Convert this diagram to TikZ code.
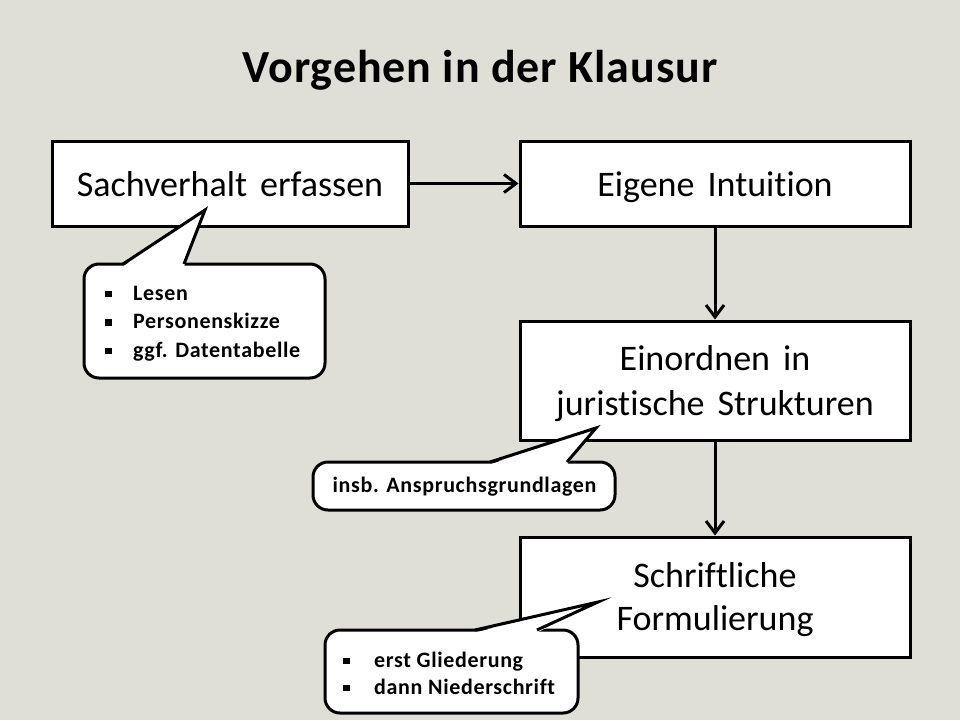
\documentclass[tikz,border=0pt]{standalone}
\usepackage{fontspec}
\setmainfont{Carlito}
\newfontfamily\boxfont[Ligatures=NoCommon,WordSpace=1.6]{Carlito}
\newfontfamily\callfont[Ligatures=NoCommon,LetterSpace=3]{Carlito}
\newfontfamily\titlefont[LetterSpace=2]{Carlito}
\usetikzlibrary{arrows.meta}
\definecolor{bg}{HTML}{DFDFD7}
\newcommand\mybulA{\makebox[28pt][l]{\rule[3pt]{6.5pt}{6.5pt}}}
\newcommand\mybulB{\makebox[31pt][l]{\rule[3pt]{6.5pt}{6.5pt}}}
\begin{document}
\begin{tikzpicture}[x=1pt,y=-1pt,
  mainbox/.style={draw=black, line width=3pt, fill=white, inner sep=0pt},
  boxtxt/.style={anchor=base, inner sep=0pt, font=\boxfont\fontsize{36}{44}\selectfont},
  callout/.style={draw=black, line width=3pt, fill=white, rounded corners=15pt, inner sep=0pt},
  calltxt/.style={anchor=base west, inner sep=0pt, font=\callfont\bfseries\fontsize{22}{28}\selectfont},
  flow/.style={line width=3pt, -{Straight Barb[length=12pt,width=18pt]}},
  tail/.style={draw=black, line width=3pt, line join=miter}
]
\useasboundingbox[fill=bg] (0,0) rectangle (960,720);
\node[anchor=base, inner sep=0pt, font=\titlefont\bfseries\fontsize{46}{50}\selectfont] (title) at (480,82) {Vorgehen in der Klausur};

\node[mainbox, minimum width=356pt, minimum height=85pt] (s) at (230,183.5) {};
\node[mainbox, minimum width=390pt, minimum height=85pt] (e) at (715,183.5) {};
\node[mainbox, minimum width=390pt, minimum height=119pt] (j) at (715,380.5) {};
\node[mainbox, minimum width=390pt, minimum height=120pt] (f) at (715,597) {};
\node[boxtxt] (st) at (230,196) {Sachverhalt erfassen};
\node[boxtxt] (et) at (715,196) {Eigene Intuition};
\node[boxtxt] (jt1) at (715,370) {Einordnen in};
\node[boxtxt] (jt2) at (715,415) {juristische Strukturen};
\node[boxtxt] (ft1) at (715,587) {Schriftliche};
\node[boxtxt] (ft2) at (715,630) {Formulierung};

\draw[flow] (s.east) -- (e.west);
\draw[flow] (e.south) -- (j.north);
\draw[flow] (j.south) -- (f.north);

% callout 1
\node[callout, minimum width=241pt, minimum height=114pt] (c1) at (204.5,321) {};
\coordinate (t1) at (205,210);
\fill[white] (123,266.5) -- (t1) -- (184,266.5) -- cycle;
\draw[tail] (123,264) -- (t1) -- (184,264);
\node[calltxt] (c1a) at (105,300) {\mybulA Lesen};
\node[calltxt] (c1b) at (105,328.5) {\mybulA Personenskizze};
\node[calltxt] (c1c) at (105,357) {\mybulA ggf. Datentabelle};

% callout 2
\node[callout, minimum width=302pt, minimum height=48pt] (c2) at (464,486) {};
\coordinate (t2) at (596,428);
\fill[white] (490,464.5) -- (t2) -- (567,464.5) -- cycle;
\draw[tail] (490,462) -- (t2) -- (567,462);
\node[calltxt, anchor=base] (c2a) at (464.5,492) {insb. Anspruchsgrundlagen};

% callout 3
\node[callout, minimum width=253pt, minimum height=83pt] (c3) at (451.5,671.5) {};
\coordinate (t3) at (598,602);
\fill[white] (475,632.5) -- (t3) -- (537,632.5) -- cycle;
\draw[tail] (475,630) -- (t3) -- (537,630);
\node[calltxt] (c3a) at (343,667) {\mybulB erst Gliederung};
\node[calltxt] (c3b) at (343,694) {\mybulB dann Niederschrift};
\end{tikzpicture}
\end{document}
